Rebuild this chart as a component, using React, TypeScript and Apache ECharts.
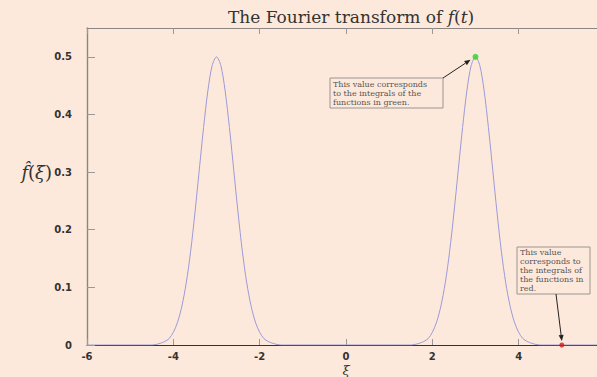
import React, { useEffect, useRef } from "react";
import * as echarts from "echarts";

// Sampled values of the transform, two bumps centred at ξ = -3 and ξ = 3
const XI = [
  -6, -5, -4.6, -4.5, -4.4, -4.3, -4.2, -4.1, -4.0, -3.9, -3.8, -3.7, -3.6, -3.5, -3.4, -3.3, -3.2, -3.1,
  -3.0, -2.9, -2.8, -2.7, -2.6, -2.5, -2.4, -2.3, -2.2, -2.1, -2.0, -1.9, -1.8, -1.7, -1.6, -1.5, -1.4,
  -1, 0, 1,
  1.4, 1.5, 1.6, 1.7, 1.8, 1.9, 2.0, 2.1, 2.2, 2.3, 2.4, 2.5, 2.6, 2.7, 2.8, 2.9,
  3.0, 3.1, 3.2, 3.3, 3.4, 3.5, 3.6, 3.7, 3.8, 3.9, 4.0, 4.1, 4.2, 4.3, 4.4, 4.5, 4.6,
  5, 6,
];
const FHAT = [
  0, 0, 0, 0, 0.001, 0.003, 0.006, 0.011, 0.022, 0.04, 0.068, 0.108, 0.162, 0.229, 0.303, 0.377, 0.441, 0.485,
  0.5, 0.485, 0.441, 0.377, 0.303, 0.229, 0.162, 0.108, 0.068, 0.04, 0.022, 0.011, 0.006, 0.003, 0.001, 0, 0,
  0, 0, 0,
  0, 0, 0.001, 0.003, 0.006, 0.011, 0.022, 0.04, 0.068, 0.108, 0.162, 0.229, 0.303, 0.377, 0.441, 0.485,
  0.5, 0.485, 0.441, 0.377, 0.303, 0.229, 0.162, 0.108, 0.068, 0.04, 0.022, 0.011, 0.006, 0.003, 0.001, 0, 0,
  0, 0,
];

// Highlighted points
const GREEN_POINT = [3, 0.5];
const RED_POINT = [5, 0];

const GREEN_NOTE = ["This value corresponds", "to the integrals of the", "functions in green."];
const RED_NOTE = ["This value", "corresponds to", "the integrals of", "the functions in", "red."];

const BG = "#fde9db";
const NOTE_FONT = '8px "DejaVu Serif"';
const SERIF = '"DejaVu Serif", serif';

function arrow(x1: number, y1: number, x2: number, y2: number) {
  const dx = x2 - x1;
  const dy = y2 - y1;
  const len = Math.hypot(dx, dy);
  const ux = dx / len;
  const uy = dy / len;
  const hl = 6;
  const hw = 2.5;
  const bx = x2 - ux * hl;
  const by = y2 - uy * hl;
  return [
    {
      type: "line",
      shape: { x1, y1, x2: bx, y2: by },
      style: { stroke: "#222", lineWidth: 1 },
      z: 20,
    },
    {
      type: "polygon",
      shape: {
        points: [
          [x2, y2],
          [bx - uy * hw, by + ux * hw],
          [bx + uy * hw, by - ux * hw],
        ],
      },
      style: { fill: "#222" },
      z: 20,
    },
  ];
}

export default function App() {
  const ref = useRef<HTMLDivElement>(null);

  useEffect(() => {
    if (!ref.current) return;
    const chart = echarts.init(ref.current, null, { renderer: "svg" });
    const lineData = XI.map((x, i) => [x, FHAT[i]]);
    const tickLabel = {
      fontFamily: '"DejaVu Sans", sans-serif',
      fontWeight: "bold" as const,
      fontSize: 10,
      color: "#333",
    };

    chart.setOption({
      animation: false,
      backgroundColor: BG,
      title: {
        text: "The Fourier transform of {i|f}({i|t})",
        left: 346,
        textAlign: "center",
        top: 3,
        textStyle: {
          fontFamily: SERIF,
          fontWeight: "normal",
          fontSize: 17,
          color: "#333",
          rich: {
            i: { fontFamily: SERIF, fontStyle: "italic", fontSize: 17, color: "#333" },
          },
        },
      },
      // the plot runs on past the right edge of the visible page
      grid: { left: 87, top: 28, right: 5, bottom: 32, containLabel: false },
      xAxis: [
        {
          type: "value",
          min: -6,
          max: 6,
          interval: 2,
          position: "bottom",
          axisLine: { show: true, onZero: false, lineStyle: { color: "#333", width: 1.2 } },
          axisTick: { inside: true, length: 6, lineStyle: { color: "#999" } },
          axisLabel: { margin: 6, showMaxLabel: false, ...tickLabel },
          splitLine: { show: false },
        },
        {
          type: "value",
          min: -6,
          max: 6,
          interval: 2,
          position: "top",
          axisLine: { show: true, onZero: false, lineStyle: { color: "#8a8580", width: 1.2 } },
          axisTick: { inside: true, length: 6, lineStyle: { color: "#999" } },
          axisLabel: { show: false },
          splitLine: { show: false },
        },
      ],
      yAxis: {
        type: "value",
        min: 0,
        max: 0.55,
        interval: 0.1,
        axisLine: { show: true, onZero: false, lineStyle: { color: "#8a8580", width: 1.4 } },
        axisTick: { inside: true, length: 8, lineStyle: { color: "#999" } },
        axisLabel: { margin: 15, showMaxLabel: false, ...tickLabel },
        splitLine: { show: false },
      },
      series: [
        {
          type: "line",
          data: lineData,
          showSymbol: false,
          smooth: 0.3,
          lineStyle: { color: "#9a9ad8", width: 1 },
          z: 5,
        },
        {
          type: "scatter",
          data: [GREEN_POINT],
          symbolSize: 6,
          itemStyle: { color: "#2fd12f" },
          z: 10,
        },
        {
          type: "scatter",
          data: [RED_POINT],
          symbolSize: 5,
          itemStyle: { color: "#d81818" },
          z: 10,
        },
      ],
    });

    const g = chart.convertToPixel({ gridIndex: 0 }, GREEN_POINT) as number[];
    const r = chart.convertToPixel({ gridIndex: 0 }, RED_POINT) as number[];

    const greenBox = { x: 330, y: 78, w: 113, h: 30 };
    const redBox = { x: 517, y: 247, w: 73, h: 47 };

    chart.setOption({
      graphic: [
        // y-axis name
        {
          type: "text",
          x: 52,
          y: 172,
          style: {
            text: "{i|f\u0302}({i|ξ})",
            font: `18px ${SERIF}`,
            fill: "#333",
            align: "right",
            verticalAlign: "middle",
            rich: { i: { fontStyle: "italic", fontSize: 18, fontFamily: SERIF } },
          },
        },
        // x-axis name
        {
          type: "text",
          x: 346,
          y: 370,
          style: {
            text: "ξ",
            font: `italic 13px ${SERIF}`,
            fill: "#333",
            align: "center",
            verticalAlign: "middle",
          },
        },
        {
          type: "rect",
          shape: { x: greenBox.x, y: greenBox.y, width: greenBox.w, height: greenBox.h },
          style: { fill: BG, stroke: "#9a9590", lineWidth: 1 },
          z: 15,
        },
        {
          type: "text",
          x: greenBox.x + 3,
          y: greenBox.y + 1.5,
          style: {
            text: GREEN_NOTE.join("\n"),
            font: NOTE_FONT,
            fill: "#555",
            lineHeight: 9,
          },
          z: 16,
        },
        ...arrow(greenBox.x + greenBox.w, greenBox.y, g[0] - 5, g[1] + 3),
        {
          type: "rect",
          shape: { x: redBox.x, y: redBox.y, width: redBox.w, height: redBox.h },
          style: { fill: BG, stroke: "#9a9590", lineWidth: 1 },
          z: 15,
        },
        {
          type: "text",
          x: redBox.x + 3,
          y: redBox.y + 1,
          style: {
            text: RED_NOTE.join("\n"),
            font: NOTE_FONT,
            fill: "#555",
            lineHeight: 9,
          },
          z: 16,
        },
        ...arrow(redBox.x + 39, redBox.y + redBox.h, r[0], r[1] - 4),
      ],
    });

    return () => chart.dispose();
  }, []);

  return (
    <div
      ref={ref}
      style={{ position: "fixed", left: 0, top: 0, width: 610, height: 377 }}
    />
  );
}
